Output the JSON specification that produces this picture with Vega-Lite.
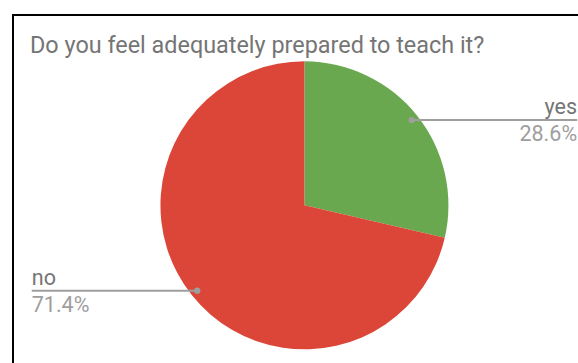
{
  "$schema": "https://vega.github.io/schema/vega-lite/v6.json",
  "width": 580,
  "height": 349,
  "autosize": {"type": "none"},
  "padding": {"left": 13, "top": 15, "right": 0, "bottom": 0},
  "background": "white",
  "config": {"view": {"stroke": "#000000", "strokeWidth": 2}, "font": "Roboto"},
  "title": {
    "text": "Do you feel adequately prepared to teach it?",
    "anchor": "start",
    "dx": 17,
    "offset": -43,
    "fontSize": 23.4,
    "fontWeight": "normal",
    "color": "#757575",
    "font": "Roboto"
  },
  "data": {"values": [
    {"answer": "yes", "share": 28.6},
    {"answer": "no", "share": 71.4}
  ]},
  "layer": [
    {
      "mark": {"type": "arc", "outerRadius": 144},
      "encoding": {
        "theta": {"field": "share", "type": "quantitative", "stack": true},
        "order": {"field": "answer", "sort": "descending"},
        "color": {"field": "answer", "type": "nominal", "scale": {"domain": ["yes", "no"], "range": ["#6aa84f", "#dc4638"]}, "legend": null},
        "x": {"datum": 0, "type": "quantitative", "scale": {"domain": [-2.02, 2.0], "zero": false, "nice": false}, "axis": null},
        "y": {"datum": 0, "type": "quantitative", "scale": {"domain": [-1.1, 1.32], "zero": false, "nice": false}, "axis": null}
      }
    },
    {
      "transform": [
        {"joinaggregate": [{"op": "sum", "field": "share", "as": "total"}]},
        {"window": [{"op": "sum", "field": "share", "as": "cum"}], "sort": [{"field": "answer", "order": "descending"}]},
        {"calculate": "(datum.cum - datum.share / 2) / datum.total * 2 * PI", "as": "mid"},
        {"calculate": "0.95 * sin(datum.mid)", "as": "px"},
        {"calculate": "0.95 * cos(datum.mid)", "as": "py"},
        {"calculate": "datum.px > 0 ? 1.89 : -1.89", "as": "edge"},
        {"calculate": "format(datum.share, '.1f') + '%'", "as": "pct"}
      ],
      "layer": [
        {
          "mark": {"type": "rule", "color": "#9e9e9e", "strokeWidth": 2},
          "encoding": {
            "x": {"field": "px", "type": "quantitative", "scale": {"domain": [-2.02, 2.0], "zero": false, "nice": false}, "axis": null},
            "x2": {"field": "edge"},
            "y": {"field": "py", "type": "quantitative", "scale": {"domain": [-1.1, 1.32], "zero": false, "nice": false}, "axis": null}
          }
        },
        {
          "mark": {"type": "point", "filled": true, "size": 40, "color": "#9e9e9e", "opacity": 1},
          "encoding": {
            "x": {"field": "px", "type": "quantitative"},
            "y": {"field": "py", "type": "quantitative"}
          }
        },
        {
          "mark": {"type": "text", "fontSize": 21.5, "color": "#757575", "dy": -6, "baseline": "alphabetic", "align": {"expr": "datum.px > 0 ? 'right' : 'left'"}},
          "encoding": {
            "x": {"field": "edge", "type": "quantitative"},
            "y": {"field": "py", "type": "quantitative"},
            "text": {"field": "answer"}
          }
        },
        {
          "mark": {"type": "text", "fontSize": 21.5, "color": "#9e9e9e", "dy": 21, "baseline": "alphabetic", "align": {"expr": "datum.px > 0 ? 'right' : 'left'"}},
          "encoding": {
            "x": {"field": "edge", "type": "quantitative"},
            "y": {"field": "py", "type": "quantitative"},
            "text": {"field": "pct"}
          }
        }
      ]
    }
  ]
}
